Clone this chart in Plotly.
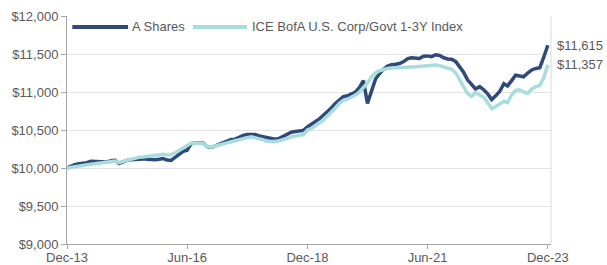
import pandas as pd
import plotly.graph_objects as go

# Monthly dates Dec-2013 .. Dec-2023 (month ends)
dates = pd.date_range("2013-12-31", "2023-12-31", freq="ME")

a_shares = [
    10000, 10025, 10045, 10055, 10060, 10070, 10090, 10090, 10085, 10080, 10080, 10095,
    10100, 10060, 10085, 10100, 10110, 10115, 10125, 10120, 10115, 10110, 10110, 10115,
    10125, 10105, 10100, 10140, 10180, 10220, 10235, 10320, 10330, 10330, 10325, 10280,
    10270, 10290, 10310, 10330, 10345, 10375, 10380, 10405, 10430, 10440, 10445, 10440,
    10420, 10410, 10395, 10380, 10380, 10390, 10415, 10435, 10470, 10480, 10490, 10495,
    10540, 10570, 10610, 10645, 10690, 10740, 10790, 10850, 10900, 10940, 10950, 10975,
    11000, 11060, 11150, 10850, 11020, 11170, 11240, 11300, 11340, 11360, 11365, 11375,
    11400, 11440, 11450, 11445, 11440, 11470, 11475, 11465, 11490, 11480, 11450, 11435,
    11430, 11400, 11340, 11260, 11160, 11090, 11040, 11070, 11030, 10975, 10900, 10950,
    11010, 11110, 11080, 11150, 11220, 11210, 11200, 11250, 11290, 11310, 11320, 11460,
    11615,
]

ice_index = [
    10000, 10010, 10020, 10030, 10035, 10040, 10050, 10055, 10060, 10065, 10070, 10080,
    10090, 10070, 10090, 10100, 10115, 10130, 10140, 10145, 10150, 10155, 10165, 10175,
    10180, 10170, 10175, 10200, 10230, 10260, 10290, 10325, 10330, 10330, 10320, 10285,
    10275, 10290, 10300, 10315, 10330, 10345, 10360, 10380, 10390, 10400, 10410, 10400,
    10385, 10370, 10350, 10345, 10350, 10360, 10370, 10390, 10410, 10420, 10430, 10440,
    10500, 10520, 10555, 10590, 10630, 10680, 10730, 10790, 10850, 10890, 10905, 10930,
    10960, 11000, 11060, 11120, 11200, 11250, 11280, 11300, 11310, 11315, 11320, 11322,
    11325, 11328, 11330, 11332, 11335, 11340, 11345, 11350, 11355, 11345, 11330, 11315,
    11300, 11250, 11160, 11060, 10980, 10940, 10990, 10960, 10930, 10860, 10780, 10810,
    10850, 10880, 10860, 10960, 11020, 11030, 11000, 10980, 11040, 11070, 11085, 11190,
    11357,
]

series_names = ["A Shares", "ICE BofA U.S. Corp/Govt 1-3Y Index"]
series_colors = ["#2E4A7A", "#A8DCDD"]

tick_dates = ["2013-12-31", "2016-06-30", "2018-12-31", "2021-06-30", "2023-12-31"]
tick_labels = ["Dec-13", "Jun-16", "Dec-18", "Jun-21", "Dec-23"]

y_ticks = [9000, 9500, 10000, 10500, 11000, 11500, 12000]

FONT = "Liberation Sans, Arial, sans-serif"
GREY = "#595959"

fig = go.Figure()
for name, vals, col in zip(series_names, [a_shares, ice_index], series_colors):
    fig.add_trace(go.Scatter(
        x=dates, y=vals, mode="lines", name=name,
        line=dict(color=col, width=3.5), showlegend=False,
    ))

# End-value labels
for vals in [a_shares, ice_index]:
    fig.add_annotation(
        x=dates[-1], y=vals[-1], xref="x", yref="y",
        text="${:,.0f}".format(vals[-1]), showarrow=False,
        xanchor="left", yanchor="middle", xshift=7,
        font=dict(family=FONT, size=13, color=GREY),
    )

# Legend (drawn manually to match long line samples)
leg_y = 0.952
leg_items = [(0.011, 0.126, 0.131), (0.260, 0.372, 0.379)]
for (x0, x1, xt), name, col in zip(leg_items, series_names, series_colors):
    fig.add_shape(type="line", xref="paper", yref="paper",
                  x0=x0, x1=x1, y0=leg_y, y1=leg_y,
                  line=dict(color=col, width=4))
    fig.add_annotation(x=xt, y=leg_y, xref="paper", yref="paper",
                       text=name, showarrow=False, xanchor="left",
                       yanchor="middle",
                       font=dict(family=FONT, size=13, color=GREY))

# Right border
fig.add_shape(type="line", xref="paper", yref="paper", x0=1, x1=1, y0=0, y1=1,
              line=dict(color="#D9D9D9", width=1))

fig.update_layout(
    width=607, height=265,
    margin=dict(l=67, r=56, t=16, b=21),
    paper_bgcolor="white", plot_bgcolor="white",
    font=dict(family=FONT, size=13, color=GREY),
    showlegend=False,
)
fig.update_xaxes(
    range=["2013-12-31", "2024-01-24"],
    tickvals=tick_dates, ticktext=tick_labels,
    showgrid=False, zeroline=False, automargin=False,
    showline=True, linecolor="#A6A6A6", linewidth=1,
    ticks="outside", ticklen=4, tickcolor="#A6A6A6",
    ticklabelstandoff=-3,
    tickfont=dict(family=FONT, size=13, color=GREY),
)
fig.update_yaxes(
    range=[9000, 12000], tickvals=y_ticks, tickformat="$,.0f",
    showgrid=True, gridcolor="#E4E4E4", gridwidth=1, zeroline=False,
    automargin=False,
    showline=True, linecolor="#A6A6A6", linewidth=1,
    ticks="outside", ticklen=5, tickcolor="#A6A6A6",
    tickfont=dict(family=FONT, size=13, color=GREY),
)

fig.write_html(
    "out.html",
    config={"displayModeBar": False},
    post_script="document.body.style.margin='0';document.body.style.overflow='hidden';",
)
